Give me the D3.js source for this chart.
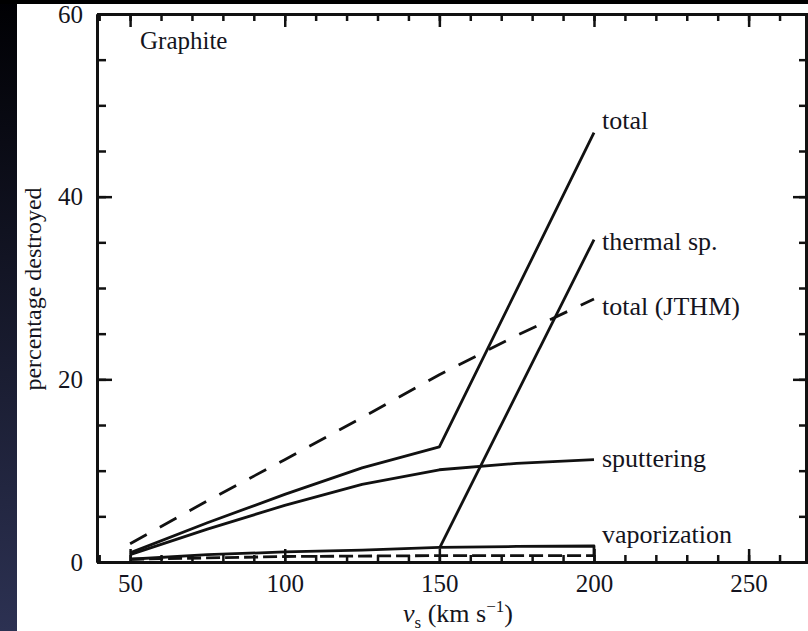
<!DOCTYPE html>
<html>
<head>
<script src="https://d3js.org/d3.v7.min.js"></script>
<style>
  body { margin: 0; background: #fff; }
  svg text { font-family: "Liberation Serif", "DejaVu Serif", serif; fill: #141420; }
  .axis path, .axis line { stroke: #111; }
</style>
</head>
<body>
<script>
// ---- data ----
var totalPts     = [[50, 1.0], [75, 4.3], [100, 7.4], [125, 10.3], [150, 12.6], [200, 47.0]];
var thermalPts   = [[150, 1.5], [200, 35.3]];
var jthmPts      = [[50, 2.0], [75, 6.7], [100, 11.2], [125, 15.8], [150, 20.5], [175, 24.8], [200, 28.8]];
var sputterPts   = [[50, 0.8], [75, 3.6], [100, 6.2], [125, 8.5], [150, 10.1], [175, 10.8], [200, 11.2]];
var vaporPts     = [[50, 0.3], [75, 0.8], [100, 1.1], [125, 1.3], [150, 1.6], [175, 1.7], [200, 1.75], [200, 0.6]];
var vaporJthmPts = [[50, 0.3], [100, 0.6], [150, 0.7], [200, 0.7]];

var xMajor = [50, 100, 150, 200, 250];
var xMinor = d3.range(40, 270, 10);
var yMajor = [0, 20, 40, 60];
var yMinor = d3.range(0, 61, 5);

var seriesNames = ["total", "thermal sp.", "total (JTHM)", "sputtering", "vaporization"];
var labelY = [48.1, 34.8, 27.7, 11.1, 2.7];

var serif = "'Liberation Serif', 'DejaVu Serif', serif";
var width = 808, height = 631;

var svg = d3.select("body").append("svg")
    .attr("width", width)
    .attr("height", height);

// dark slide background at left and top
var grad = svg.append("defs").append("linearGradient")
    .attr("id", "bg").attr("x1", 0).attr("y1", 0).attr("x2", 0).attr("y2", 1);
grad.append("stop").attr("offset", "0%").attr("stop-color", "#000003");
grad.append("stop").attr("offset", "100%").attr("stop-color", "#2c3152");
svg.append("rect").attr("width", width).attr("height", height).attr("fill", "url(#bg)");
svg.append("rect").attr("x", 0).attr("y", 0).attr("width", width).attr("height", 4).attr("fill", "#000");
svg.append("rect").attr("x", 17).attr("y", 4).attr("width", width - 17).attr("height", height - 4).attr("fill", "#fff");

var x = d3.scaleLinear().domain([39.3, 269.2]).range([97, 808]);
var y = d3.scaleLinear().domain([0, 60]).range([562, 14]);

// ---- axes ----
function drawAxis(gen, tx, ty, ticks, size, showLabels) {
  var g = svg.append("g")
      .attr("class", "axis")
      .attr("transform", "translate(" + tx + "," + ty + ")")
      .call(gen.tickValues(ticks).tickSizeInner(size).tickSizeOuter(0)
               .tickPadding(showLabels ? 12 : 0)
               .tickFormat(showLabels ? d3.format("d") : ""));
  g.attr("font-family", null).attr("font-size", null);
  g.select(".domain").attr("stroke-width", 3);
  g.selectAll(".tick line").attr("stroke-width", 2.5);
  g.selectAll(".tick text")
      .style("font-size", "25px")
      .style("font-family", serif)
      .attr("fill", "#141420");
  return g;
}

// bottom
drawAxis(d3.axisBottom(x), 0, y(0), xMinor, -7, false);
var bx = drawAxis(d3.axisBottom(x), 0, y(0), xMajor, -13, true);
bx.selectAll(".tick text").attr("dy", "0.85em").attr("y", 9);
// top
drawAxis(d3.axisTop(x), 0, y(60), xMinor, -7, false);
drawAxis(d3.axisTop(x), 0, y(60), xMajor, -13, false);
// left
drawAxis(d3.axisLeft(y), x.range()[0], 0, yMinor, -9, false);
var ly = drawAxis(d3.axisLeft(y), x.range()[0], 0, yMajor, -15, true);
ly.selectAll(".tick text").attr("x", -14);
// right
drawAxis(d3.axisRight(y), 806, 0, yMinor, -7, false);
drawAxis(d3.axisRight(y), 806, 0, yMajor, -13, false);

// ---- lines ----
var line = d3.line().x(function(d){ return x(d[0]); }).y(function(d){ return y(d[1]); });

function drawLine(pts, dashed) {
  svg.append("path")
     .datum(pts)
     .attr("d", line)
     .attr("fill", "none")
     .attr("stroke", "#111")
     .attr("stroke-width", 2.8)
     .attr("stroke-linejoin", "round")
     .attr("stroke-dasharray", dashed ? dashed : null);
}

drawLine(vaporJthmPts, "14,5");
drawLine(vaporPts);
drawLine(sputterPts);
drawLine(thermalPts);
drawLine(totalPts);
drawLine(jthmPts, "19,15");

// ---- labels ----
svg.selectAll(".serieslabel")
   .data(seriesNames)
   .enter().append("text")
   .attr("class", "serieslabel")
   .attr("x", x(200) + 8)
   .attr("y", function(d, i){ return y(labelY[i]); })
   .attr("dominant-baseline", "middle")
   .style("font-family", serif)
   .style("font-size", "26px")
   .text(function(d){ return d; });

svg.append("text")
   .attr("x", 140)
   .attr("y", 49)
   .style("font-family", serif)
   .style("font-size", "25px")
   .text("Graphite");

svg.append("text")
   .attr("transform", "translate(41," + 289 + ") rotate(-90)")
   .attr("text-anchor", "middle")
   .style("font-family", serif)
   .style("font-size", "24px")
   .text("percentage destroyed");

var xl = svg.append("text")
   .attr("x", 458)
   .attr("y", 622)
   .attr("text-anchor", "middle")
   .style("font-family", serif)
   .style("font-size", "26px");
xl.append("tspan").style("font-style", "italic").text("v");
xl.append("tspan").attr("dy", 6).style("font-size", "17px").text("s");
xl.append("tspan").attr("dy", -6).text(" (km s");
xl.append("tspan").attr("dy", -10).style("font-size", "17px").text("\u22121");
xl.append("tspan").attr("dy", 10).text(")");
</script>
</body>
</html>
